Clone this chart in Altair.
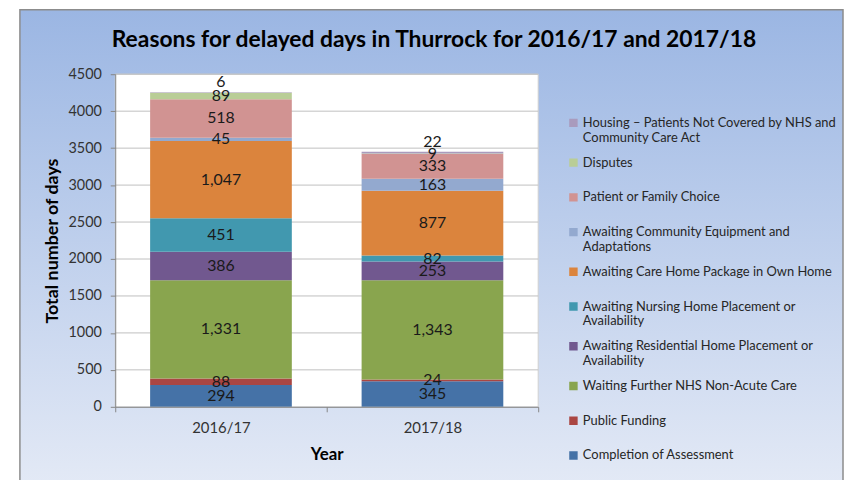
import altair as alt
import pandas as pd

TITLE = "Reasons for delayed days in Thurrock for 2016/17 and 2017/18"
YEARS = ["2016/17", "2017/18"]
# stacking order: bottom to top
REASONS = [
    "Completion of Assessment",
    "Public Funding",
    "Waiting Further NHS Non-Acute Care",
    "Awaiting Residential Home Placement or Availability",
    "Awaiting Nursing Home Placement or Availability",
    "Awaiting Care Home Package in Own Home",
    "Awaiting Community Equipment and Adaptations",
    "Patient or Family Choice",
    "Disputes",
    "Housing – Patients Not Covered by NHS and Community Care Act",
]
LEGEND_LINES = [
    ["Completion of Assessment"],
    ["Public Funding"],
    ["Waiting Further NHS Non-Acute Care"],
    ["Awaiting Residential Home Placement or", "Availability"],
    ["Awaiting Nursing Home Placement or", "Availability"],
    ["Awaiting Care Home Package in Own Home"],
    ["Awaiting Community Equipment and", "Adaptations"],
    ["Patient or Family Choice"],
    ["Disputes"],
    ["Housing – Patients Not Covered by NHS and", "Community Care Act"],
]
DAYS_2016 = [294, 88, 1331, 386, 451, 1047, 45, 518, 89, 6]
DAYS_2017 = [345, 24, 1343, 253, 82, 877, 163, 333, 9, 22]
COLORS = ["#4572a7", "#aa4643", "#89a54e", "#71588f", "#4198af",
          "#db843d", "#93a9cf", "#d19392", "#b9cd96", "#a99bbd"]
Y_TICKS = list(range(0, 4501, 500))

rows = []
for year, vals in zip(YEARS, [DAYS_2016, DAYS_2017]):
    cum = 0
    for i, (r, v) in enumerate(zip(REASONS, vals)):
        rows.append({"year": year, "reason": r, "days": v, "idx": i,
                     "mid": cum + v / 2, "top": cum + v,
                     "is_top": i == len(REASONS) - 1})
        cum += v
df = pd.DataFrame(rows)
ticks_df = pd.DataFrame({"tick": Y_TICKS[1:]})
one = pd.DataFrame({"a": [0]})

W, H = 426, 335
FONT = "Lato"

yscale = alt.Scale(domain=[0, 4500], nice=False)
xscale = alt.Scale(domain=YEARS, paddingInner=0, paddingOuter=0)

legend_order = REASONS[::-1]
legend_colors = COLORS[::-1]

def js_str(s):
    return "'" + s.replace("'", "\\'") + "'"

expr_parts = []
for name, lines in zip(REASONS, LEGEND_LINES):
    if len(lines) > 1:
        arr = "[" + ",".join(js_str(l) for l in lines) + "]"
        expr_parts.append(f"datum.label === {js_str(name)} ? {arr}")
label_expr = " : ".join(expr_parts) + " : datum.label"

gradient = alt.LinearGradient(
    gradient="linear",
    stops=[alt.GradientStop(color="#9bb6e3", offset=0),
           alt.GradientStop(color="#e4eaf6", offset=1)],
    x1=0, x2=0, y1=0, y2=1,
)

xaxis = alt.Axis(title="Year", labelAngle=0, tickBand="extent", tickSize=5,
                 labelPadding=9, labelFont=FONT, labelFontSize=15, labelColor="#333333",
                 titleFont=FONT, titleFontSize=17, titleFontWeight="bold", titleColor="black",
                 titlePadding=11, domainColor="#868686", tickColor="#868686", grid=False, zindex=1)
yaxis = alt.Axis(title="Total number of days", values=Y_TICKS, format="d", tickSize=5,
                 labelPadding=9, labelFont=FONT, labelFontSize=14.5, labelColor="#333333",
                 titleFont=FONT, titleFontSize=18, titleFontWeight="bold", titleColor="black",
                 titlePadding=7, domainColor="#868686", tickColor="#868686", grid=False, zindex=1)

legend = alt.Legend(
    title=None, orient="none", legendX=455, legendY=31.7, padding=0,
    symbolType="square", symbolSize=72, symbolStrokeWidth=0,
    labelFont=FONT, labelFontSize=13, labelColor="#262626", labelLimit=400,
    labelExpr=label_expr, labelBaseline="middle", labelOffset=3,
    clipHeight=34.66, rowPadding=0,
)

bg = alt.Chart(one).mark_rect(fill=gradient, stroke="#8c8c8c", strokeWidth=1.5).encode(
    x=alt.value(-96), x2=alt.value(733), y=alt.value(-65), y2=alt.value(420)
)
plot_bg = alt.Chart(one).mark_rect(fill="white", stroke="#d0d0d0", strokeWidth=1).encode(
    x=alt.value(0), x2=alt.value(W), y=alt.value(0), y2=alt.value(H)
)
title = alt.Chart(one).mark_text(
    text=TITLE, font=FONT, fontSize=23, fontWeight="bold", color="black",
    align="center", baseline="alphabetic"
).encode(x=alt.value(321), y=alt.value(-27))

grid = alt.Chart(ticks_df).mark_rule(color="#c0c0c0", strokeWidth=1).encode(
    y=alt.Y("tick:Q", scale=yscale, axis=yaxis)
)

bars = alt.Chart(df).mark_bar(width=alt.RelativeBandSize(0.67)).encode(
    x=alt.X("year:N", scale=xscale, axis=xaxis, sort=YEARS),
    y=alt.Y("days:Q", stack="zero", scale=yscale, axis=yaxis),
    color=alt.Color("reason:N", scale=alt.Scale(domain=legend_order, range=legend_colors),
                    legend=legend),
    order=alt.Order("idx:Q", sort="ascending"),
)

mid_labels = alt.Chart(df[~df["is_top"]]).mark_text(
    font=FONT, fontSize=16, color="#1a1a1a", baseline="middle"
).encode(
    x=alt.X("year:N", scale=xscale, axis=xaxis, sort=YEARS),
    y=alt.Y("mid:Q", scale=yscale, axis=yaxis),
    text=alt.Text("days:Q", format=","),
)
top_labels = alt.Chart(df[df["is_top"]]).mark_text(
    font=FONT, fontSize=16, color="#1a1a1a", baseline="bottom", dy=-2
).encode(
    x=alt.X("year:N", scale=xscale, axis=xaxis, sort=YEARS),
    y=alt.Y("top:Q", scale=yscale, axis=yaxis),
    text=alt.Text("days:Q", format=","),
)

chart = alt.layer(bg, plot_bg, title, grid, bars, mid_labels, top_labels).properties(
    width=W, height=H,
    autosize=alt.AutoSizeParams(type="none"),
    padding={"left": 108, "top": 65, "right": 308, "bottom": 72},
).configure_view(stroke=None).configure(background="white")

chart.save("out.html", embed_options={"renderer": "svg", "actions": False})
